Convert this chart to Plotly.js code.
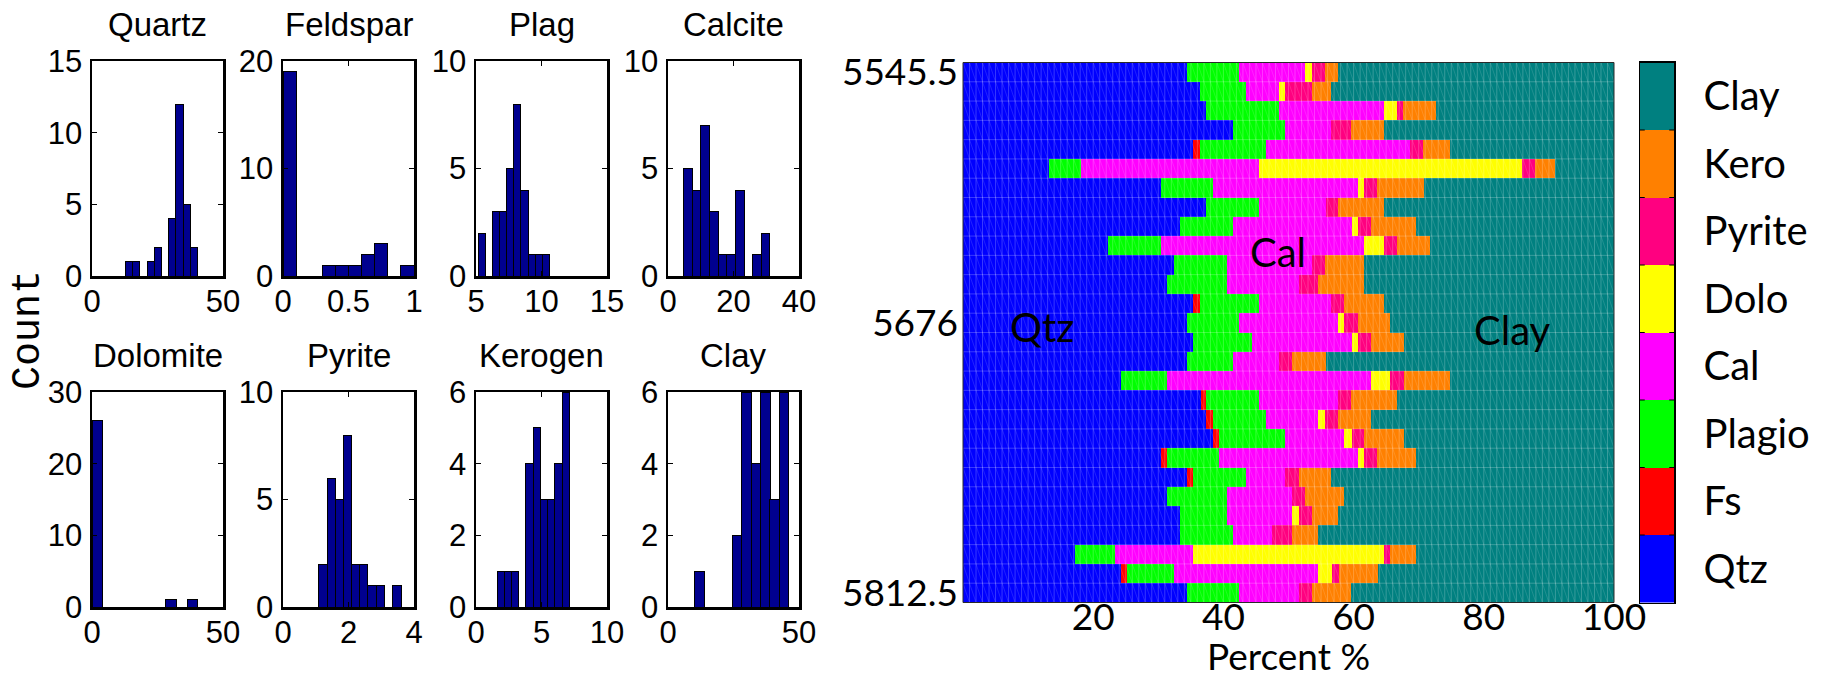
<!DOCTYPE html>
<html>
<head>
<meta charset="utf-8">
<script src="https://cdn.plot.ly/plotly-3.0.1.min.js"></script>
<style>html,body{margin:0;padding:0;background:#fff;}#chart{width:1826px;height:677px;}</style>
</head>
<body>
<div id="chart"></div>
<script>
// ---------- Histogram data (bin centres & counts) ----------
const histTitles = ['Quartz','Feldspar','Plag','Calcite','Dolomite','Pyrite','Kerogen','Clay'];
const quartzCenters   = [14.1,16.8,19.6,22.4,25.1,27.9,30.6,33.4,36.2,38.9];
const quartzCounts    = [1,1,0,1,2,0,4,12,5,2];
const feldsparCenters = [0.05,0.15,0.25,0.35,0.45,0.55,0.65,0.75,0.85,0.95];
const feldsparCounts  = [19,0,0,1,1,1,2,3,0,1];
const plagCenters     = [5.47,6.01,6.55,7.09,7.63,8.16,8.70,9.24,9.78,10.32];
const plagCounts      = [2,0,3,3,5,8,4,1,1,1];
const calciteCenters  = [6.06,8.70,11.34,13.98,16.62,19.26,21.90,24.54,27.18,29.82];
const calciteCounts   = [5,4,7,3,1,1,4,0,1,2];
const dolomiteCenters = [2.02,6.05,10.08,14.1,18.1,22.2,26.2,30.2,34.3,38.3];
const dolomiteCounts  = [26,0,0,0,0,0,0,1,0,1];
const pyriteCenters   = [1.22,1.47,1.72,1.97,2.22,2.47,2.72,2.98,3.23,3.48];
const pyriteCounts    = [2,6,5,8,2,2,1,1,0,1];
const kerogenCenters  = [1.90,2.45,2.99,3.54,4.09,4.64,5.19,5.74,6.29,6.84];
const kerogenCounts   = [1,1,1,0,4,5,3,3,4,6];
const clayCenters     = [12.1,15.7,19.3,22.8,26.4,30.0,33.6,37.2,40.7,44.3];
const clayCounts      = [1,0,0,0,2,6,4,6,3,6];

// axis ranges & tick labels for the histograms
const histXRange = [[0,50],[0,1],[5,15],[0,40],[0,50],[0,4],[0,10],[0,50]];
const histXTicks = [[0,50],[0,0.5,1],[5,10,15],[0,20,40],[0,50],[0,2,4],[0,5,10],[0,50]];
const histYRange = [[0,15],[0,20],[0,10],[0,10],[0,30],[0,10],[0,6],[0,6]];
const histYTicks = [[0,5,10,15],[0,10,20],[0,5,10],[0,5,10],[0,10,20,30],[0,5,10],[0,2,4,6],[0,2,4,6]];

// ---------- Composition data (percent per sample, top to bottom) ----------
const components = ['Qtz','Fs','Plagio','Cal','Dolo','Pyrite','Kero','Clay'];
const sampleIdx = [0,1,2,3,4,5,6,7,8,9,10,11,12,13,14,15,16,17,18,19,20,21,22,23,24,25,26,27];
const qtz  = [34.4,36.4,37.4,41.4,35.4,13.2,30.4,37.4,33.4,22.3,32.4,31.4,35.4,34.4,35.4,34.4,24.2,36.5,37.4,38.4,30.4,34.4,31.4,33.4,33.4,17.2,24.2,34.4];
const fs   = [0,0,0,0,1.0,0,0,0,0,0,0,0,1.0,0,0,0,0,0.9,1.0,1.0,1.0,1.0,0,0,0,0,1.0,0];
const plag = [8.0,7.0,11.1,8.1,10.1,5.0,8.0,8.1,8.1,8.1,8.1,9.1,9.1,8.0,9.0,7.1,7.2,8.1,8.1,10.1,8.0,8.0,9.1,7.1,8.1,6.1,7.2,8.0];
const cal  = [10.2,5.1,16.1,7.1,22.2,27.3,22.3,10.2,18.2,31.2,13.1,11.1,11.1,15.2,15.3,7.0,31.2,12.1,8.1,9.1,21.3,6.1,10.0,10.0,6.0,12.1,22.2,9.2];
const dolo = [1.0,1.0,2.0,0,0,40.4,0.9,0,1.0,3.0,0,0,0,1.0,1.0,0,3.0,0,1.0,1.1,0.9,0,0,1.1,0,29.2,2.1,0];
const pyr  = [2.0,4.1,1.0,3.0,2.0,1.9,2.0,1.9,1.9,2.1,2.0,3.0,2.0,2.1,1.9,2.0,2.1,2.0,2.0,1.9,2.0,2.1,2.0,2.0,3.0,1.0,1.0,2.0];
const kero = [2.0,3.0,5.0,5.0,4.1,3.1,7.2,7.0,7.0,5.0,6.0,7.0,6.0,4.9,5.1,5.2,7.1,7.1,5.0,6.1,6.0,5.0,6.1,4.0,4.1,4.0,6.0,6.0];
const clay = [42.4,43.4,27.4,35.4,25.2,9.1,29.2,35.4,30.4,28.3,38.4,38.4,35.4,34.4,32.3,44.3,25.2,33.3,37.4,32.3,30.4,43.4,41.4,42.4,45.4,30.4,36.3,40.4];
const depthTickIdx = [0,13,27];
const depthTickText = ['5545.5','5676','5812.5'];
const percentTicks = [20,40,60,80,100];
const regionLabels = ['Qtz','Cal','Clay'];

// ---------- styles ----------
const compColors = ['#0000ff','#ff0000','#00ff00','#ff00ff','#ffff00','#ff0080','#ff8000','#008080'];
const W = 1826, H = 677;
const px = (a,b) => [a/W, b/W];
const py = (top,bottom) => [1-bottom/H, 1-top/H];
const HF = 'Liberation Sans, Arial, sans-serif';
const CF = 'Lato, Calibri, sans-serif';

const histCenters = [quartzCenters,feldsparCenters,plagCenters,calciteCenters,dolomiteCenters,pyriteCenters,kerogenCenters,clayCenters];
const histCounts  = [quartzCounts,feldsparCounts,plagCounts,calciteCounts,dolomiteCounts,pyriteCounts,kerogenCounts,clayCounts];
const boxLeft = [92,283,476,668];
const boxW = 131;
const rowTop = [61,392], rowBottom = [276,607];

const traces = [];
const layout = {
  width: W, height: H, margin:{l:0,r:0,t:0,b:0},
  paper_bgcolor:'#fff', plot_bgcolor:'#fff',
  showlegend:false, barmode:'stack', bargap:0,
  annotations:[], shapes:[]
};

for (let i=0;i<8;i++){
  const n = i+1;
  const col = i%4, row = Math.floor(i/4);
  const xa = 'x'+n, ya = 'y'+n;
  const w = histCenters[i][1]-histCenters[i][0];
  traces.push({type:'bar', x:histCenters[i], y:histCounts[i], width:w,
    xaxis:xa, yaxis:ya, marker:{color:'#00008f', line:{color:'#000', width:1}}, hoverinfo:'x+y'});
  const common = {showgrid:false, zeroline:false, showline:true, linecolor:'#000', linewidth:2.5,
    mirror:'ticks', ticks:'inside', ticklen:5, tickwidth:1.5, tickcolor:'#000',
    tickfont:{family:HF, size:31, color:'#000'}, fixedrange:true};
  layout['xaxis'+(n===1?'':n)] = Object.assign({}, common, {
    domain: px(boxLeft[col], boxLeft[col]+boxW), anchor:ya,
    range: histXRange[i], tickvals: histXTicks[i], ticktext: histXTicks[i].map(String),
    ticklabelstandoff: -4});
  layout['yaxis'+(n===1?'':n)] = Object.assign({}, common, {
    domain: py(rowTop[row], rowBottom[row]), anchor:xa,
    range: histYRange[i], tickvals: histYTicks[i], ticktext: histYTicks[i].map(String),
    ticklabelstandoff: 1});
  layout.annotations.push({text:histTitles[i], xref:'paper', yref:'paper',
    x:(boxLeft[col]+boxW/2)/W, y:1-(row===0?24:355)/H, xanchor:'center', yanchor:'middle',
    showarrow:false, font:{family:HF, size:33, color:'#000'}});
}
layout.annotations.push({text:'Count', xref:'paper', yref:'paper', x:28/W, y:1-330/H,
  textangle:-90, xanchor:'center', yanchor:'middle', showarrow:false,
  font:{family:'Liberation Mono, Courier New, monospace', size:40, color:'#000'}});

// ---------- main composition chart ----------
const compValues = [qtz,fs,plag,cal,dolo,pyr,kero,clay];
for (let k=0;k<8;k++){
  traces.push({type:'bar', orientation:'h', name:components[k], x:compValues[k], y:sampleIdx,
    width:1, xaxis:'x9', yaxis:'y9', marker:{color:compColors[k], line:{width:0}}});
}
layout.xaxis9 = {domain:px(963,1614), anchor:'free', position:1-592/H, range:[0,100], tickvals:percentTicks,
  ticktext:percentTicks.map(String), ticks:'', showgrid:false, zeroline:false, showline:false,
  tickfont:{family:CF, size:37, color:'#000'}, fixedrange:true};
layout.yaxis9 = {domain:py(62.5,602.5), anchor:'x9', range:[27.5,-0.5], tickvals:depthTickIdx,
  ticktext:depthTickText, ticks:'', showgrid:false, zeroline:false, showline:false,
  tickfont:{family:CF, size:37, color:'#000'}, ticklabelstandoff:4, fixedrange:true};
layout.annotations.push({text:'Percent %', xref:'paper', yref:'paper', x:1288/W, y:1-655/H,
  xanchor:'center', yanchor:'middle', showarrow:false, font:{family:CF, size:37, color:'#000'}});

// faint mesh of the shaded grid
const meshCol = 'rgba(255,255,255,0.22)';
for (let c=1;c<100;c++) layout.shapes.push({type:'line', xref:'x9', yref:'y9', x0:c, x1:c, y0:-0.5, y1:27.5,
  line:{color:meshCol, width:1}, layer:'above'});
for (let r=0;r<sampleIdx.length-1;r++) layout.shapes.push({type:'line', xref:'x9', yref:'y9', x0:0, x1:100,
  y0:r+0.5, y1:r+0.5, line:{color:meshCol, width:1}, layer:'above'});
let diag = '';
for (let r=0;r<sampleIdx.length;r++) for (let c=0;c<100;c++) diag += 'M'+c+','+(r-0.5)+'L'+(c+1)+','+(r+0.5);
layout.shapes.push({type:'path', xref:'x9', yref:'y9', path:diag, line:{color:'rgba(255,255,255,0.13)', width:1}, layer:'above'});
// plot frame
layout.shapes.push({type:'rect', xref:'x9 domain', yref:'y9 domain', x0:0, x1:1, y0:0, y1:1,
  line:{color:'#2a2a2a', width:1}, fillcolor:'rgba(0,0,0,0)', layer:'above'});

// region labels inside the plot
const regionPos = [[1042,327],[1278,252],[1512,330]];
regionLabels.forEach((t,i)=>layout.annotations.push({text:t, xref:'paper', yref:'paper',
  x:regionPos[i][0]/W, y:1-regionPos[i][1]/H, xanchor:'center', yanchor:'middle', showarrow:false,
  font:{family:CF, size:40, color:'#000'}}));

// ---------- discrete colour bar ----------
for (let k=0;k<8;k++){
  traces.push({type:'bar', x:[0], y:[1], width:1, xaxis:'x10', yaxis:'y10', hoverinfo:'skip',
    marker:{color:compColors[k], line:{width:0}}});
}
layout.xaxis10 = {domain:px(1640,1674), anchor:'y10', range:[-0.5,0.5], showticklabels:false, ticks:'',
  showgrid:false, zeroline:false, showline:true, mirror:true, linecolor:'#000', linewidth:1.5, fixedrange:true};
layout.yaxis10 = {domain:py(62.5,602.5), anchor:'x10', side:'right', range:[0,8],
  tickvals:components.map((_,k)=>k+0.5), ticktext:components, ticks:'',
  showgrid:false, zeroline:false, showline:true, mirror:true, linecolor:'#000', linewidth:1.5,
  tickfont:{family:CF, size:40, color:'#000'}, ticklabelstandoff:20, fixedrange:true};
// small boundary ticks on both edges of the colour bar
for (let k=1;k<components.length;k++){
  layout.shapes.push({type:'line', xref:'x10', yref:'y10', x0:-0.5, x1:-0.36, y0:k, y1:k, line:{color:'#000', width:1}, layer:'above'});
  layout.shapes.push({type:'line', xref:'x10', yref:'y10', x0:0.36, x1:0.5, y0:k, y1:k, line:{color:'#000', width:1}, layer:'above'});
}

Plotly.newPlot('chart', traces, layout, {displayModeBar:false, staticPlot:true});
</script>
</body>
</html>
